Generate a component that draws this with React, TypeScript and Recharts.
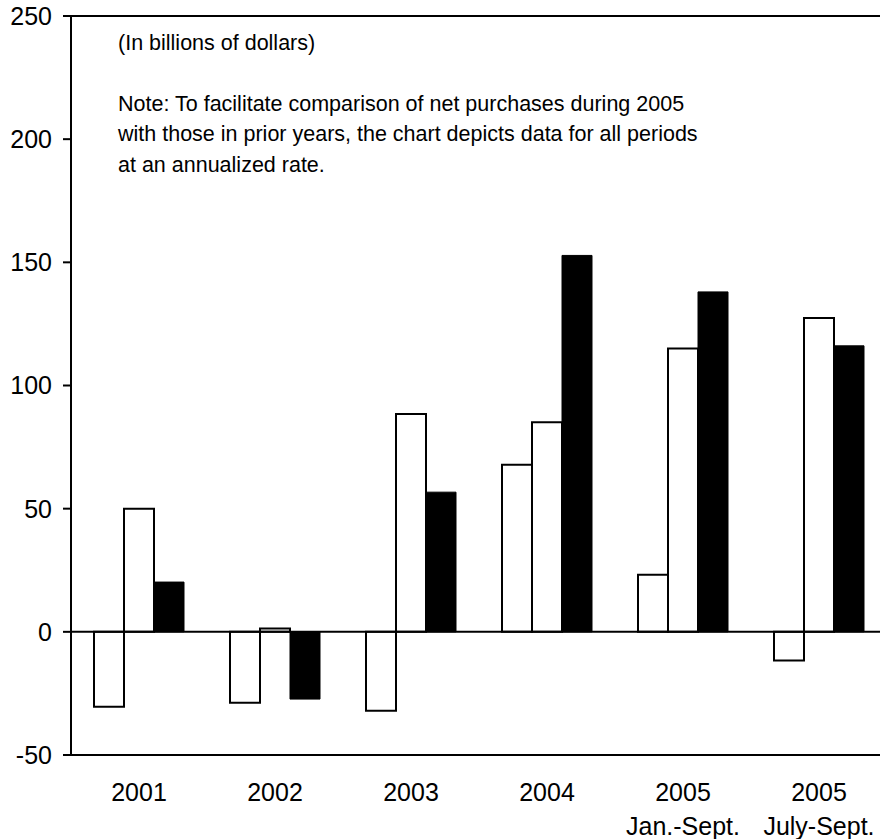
import React from "react";
import { BarChart, Bar, XAxis, YAxis, ReferenceLine } from "recharts";

const categories = ["2001", "2002", "2003", "2004", "2005", "2005"];
const subLabels = ["", "", "", "", "Jan.-Sept.", "July-Sept."];
const seriesA = [-30.4, -28.8, -32.0, 67.8, 23.2, -11.6];
const seriesB = [50.0, 1.4, 88.4, 85.1, 115.0, 127.4];
const seriesC = [20.2, -27.3, 56.7, 152.8, 138.0, 116.1];
const yTicks = [-50, 0, 50, 100, 150, 200, 250];
const noteLines = [
  "(In billions of dollars)",
  "Note: To facilitate comparison of net purchases during 2005",
  "with those in prior years, the chart depicts data for all periods",
  "at an annualized rate.",
];

const data = categories.map((c, i) => ({
  key: String(i),
  label: c,
  sub: subLabels[i],
  a: seriesA[i],
  b: seriesB[i],
  c: seriesC[i],
}));

const FONT = '"Liberation Sans", Arial, sans-serif';

const XTick = (props: any) => {
  const { x, y, payload } = props;
  const idx = Number(payload.value);
  return (
    <g>
      <text x={x} y={y + 46} textAnchor="middle" fontFamily={FONT} fontSize={25} fill="#000">
        {categories[idx]}
      </text>
      {subLabels[idx] ? (
        <text x={x} y={y + 80} textAnchor="middle" fontFamily={FONT} fontSize={25} fill="#000">
          {subLabels[idx]}
        </text>
      ) : null}
    </g>
  );
};

export default function App() {
  return (
    <div
      style={{
        position: "fixed",
        left: 0,
        top: 0,
        width: 880,
        height: 839,
        overflow: "hidden",
        background: "#fff",
      }}
    >
      <BarChart
        width={887}
        height={839}
        data={data}
        margin={{ top: 16, right: 0, bottom: 0, left: 0 }}
        barSize={30}
        barGap={0}
      >
        <XAxis
          dataKey="key"
          height={84}
          tickLine={false}
          tickSize={0}
          tickMargin={0}
          axisLine={{ stroke: "#000", strokeWidth: 2 }}
          tick={<XTick />}
          interval={0}
        />
        <YAxis
          width={71}
          domain={[-50, 250]}
          ticks={yTicks}
          type="number"
          allowDataOverflow
          tickSize={8}
          tickMargin={11}
          axisLine={{ stroke: "#000", strokeWidth: 2 }}
          tickLine={{ stroke: "#000", strokeWidth: 2 }}
          tick={{ fill: "#000", fontSize: 25, fontFamily: FONT }}
        />
        <ReferenceLine y={250} stroke="#000" strokeWidth={2} />
        <ReferenceLine y={0} stroke="#000" strokeWidth={2} />
        <Bar dataKey="a" fill="#fff" stroke="#000" strokeWidth={2} isAnimationActive={false} />
        <Bar dataKey="b" fill="#fff" stroke="#000" strokeWidth={2} isAnimationActive={false} />
        <Bar dataKey="c" fill="#000" stroke="#000" strokeWidth={1} isAnimationActive={false} />
      </BarChart>
      <svg
        width={880}
        height={200}
        style={{ position: "absolute", left: 0, top: 0, pointerEvents: "none" }}
      >
        {noteLines.map((t, i) => (
          <text
            key={i}
            x={118}
            y={i === 0 ? 50 : 111 + (i - 1) * 30.3}
            fontFamily={FONT}
            fontSize={21.5}
            fill="#000"
          >
            {t}
          </text>
        ))}
      </svg>
    </div>
  );
}
